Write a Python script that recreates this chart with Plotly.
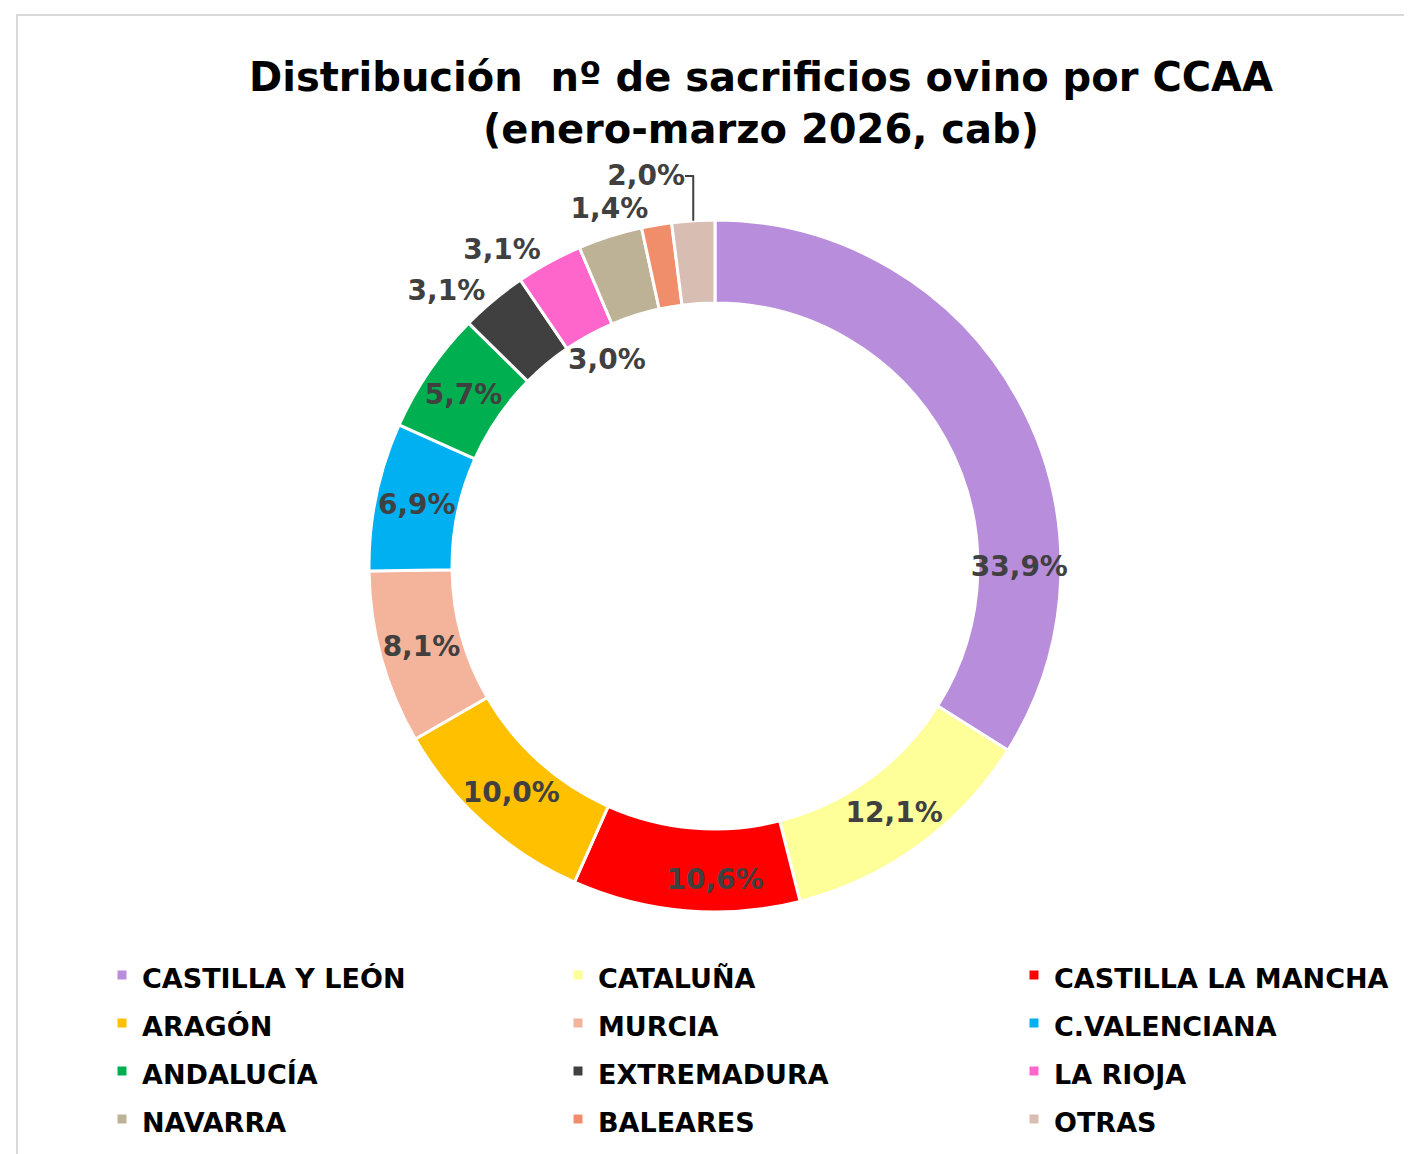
import plotly.graph_objects as go

regions = ["CASTILLA Y LEÓN", "CATALUÑA", "CASTILLA LA MANCHA", "ARAGÓN", "MURCIA",
           "C.VALENCIANA", "ANDALUCÍA", "EXTREMADURA", "LA RIOJA", "NAVARRA",
           "BALEARES", "OTRAS"]
shares = [33.9, 12.1, 10.6, 10.0, 8.1, 6.9, 5.7, 3.1, 3.1, 3.0, 1.4, 2.0]
colors = ["#B88DDB", "#FFFF99", "#FF0000", "#FFC000", "#F4B39B", "#00B0F0",
          "#00B050", "#404040", "#FF66CC", "#BDB295", "#F08E6C", "#D8BDB3"]
hole_label_region = "NAVARRA"   # its percentage sits inside the hole in the original

label_text = [f"{v:.1f}%".replace(".", ",") for v in shares]
outer_pos = ["none" if r == hole_label_region else ("inside" if v > 5 else "outside")
             for r, v in zip(regions, shares)]
inner_pos = ["outside" if r == hole_label_region else "none" for r in regions]
legend_labels = [f'<span style="font-size:27px">{r}</span>' for r in regions]

FONT = "DejaVu Sans"
W, H = 1480, 1154
CX, CY = 707, 558          # donut centre (px)
R_OUT, R_IN_LBL = 346, 201  # radii (px)

def dom(r):
    return dict(x=[(CX - r - 20) / W, (CX + r + 20) / W],
                y=[1 - (CY + r) / H, 1 - (CY - r) / H])

lbl_font = dict(family=FONT, size=28, color="#404040", weight="bold")

fig = go.Figure()
fig.add_trace(go.Pie(
    labels=legend_labels,
    values=shares,
    text=label_text,
    textinfo="text",
    textposition=outer_pos,
    insidetextorientation="horizontal",
    sort=False,
    direction="clockwise",
    rotation=0,
    hole=0.76,
    marker=dict(colors=colors, line=dict(color="white", width=3)),
    textfont=lbl_font,
    insidetextfont=lbl_font,
    outsidetextfont=lbl_font,
    domain=dom(R_OUT),
))
fig.add_trace(go.Pie(
    labels=legend_labels,
    values=shares,
    text=label_text,
    textinfo="text",
    textposition=inner_pos,
    sort=False,
    direction="clockwise",
    rotation=0,
    showlegend=False,
    hoverinfo="skip",
    marker=dict(colors=["rgba(0,0,0,0)"] * len(shares), line=dict(width=0)),
    outsidetextfont=lbl_font,
    domain=dom(R_IN_LBL),
))

fig.update_layout(
    width=W,
    height=H,
    margin=dict(l=0, r=0, t=0, b=0, autoexpand=False),
    paper_bgcolor="white",
    plot_bgcolor="white",
    uniformtext=dict(minsize=28, mode="show"),
    title=dict(
        text="<b>Distribución\u00a0 nº de sacrificios ovino por CCAA</b><br><b>(enero-marzo 2026, cab)</b>",
        x=753 / W, xanchor="center",
        y=0.9285, yanchor="top",
        font=dict(family=FONT, size=40, color="black"),
    ),
    showlegend=True,
    legend=dict(
        orientation="h",
        x=94 / W, xanchor="left",
        y=0.1872, yanchor="top",
        entrywidth=411,
        entrywidthmode="pixels",
        font=dict(family=FONT, size=34.6, color="black", weight="bold"),
        traceorder="normal",
    ),
    shapes=[dict(type="rect", xref="paper", yref="paper",
                 x0=9 / W, x1=1.02, y0=-0.02, y1=1 - 7 / H,
                 line=dict(color="#D9D9D9", width=2), fillcolor="rgba(0,0,0,0)",
                 layer="below")],
)

fig.write_html("out.html")
